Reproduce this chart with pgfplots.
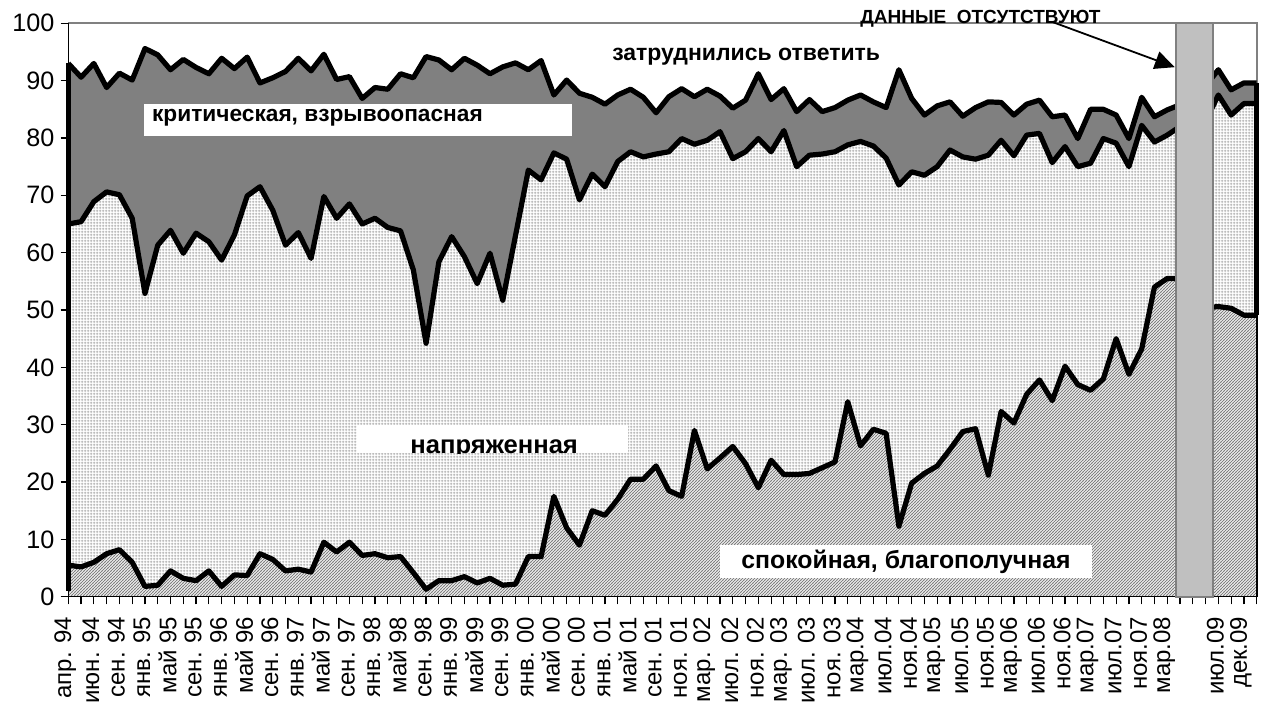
\documentclass[border=0pt]{standalone}
\usepackage{fontspec}
\setmainfont{Liberation Sans}
\usepackage{pgfplots}
\pgfplotsset{compat=1.18}
\usepackage{pgfplotstable}
\usetikzlibrary{patterns.meta,arrows.meta}

\pgfdeclarepattern{
  name=mygrid, type=uncolored,
  bottom left={\pgfpoint{0pt}{0pt}},
  top right={\pgfpoint{1.5pt}{1.5pt}},
  tile size={\pgfpoint{1.5pt}{1.5pt}},
  code={\pgfsetlinewidth{0.45pt}%
    \pgfpathmoveto{\pgfpoint{0pt}{0.75pt}}\pgfpathlineto{\pgfpoint{1.5pt}{0.75pt}}%
    \pgfpathmoveto{\pgfpoint{0.75pt}{0pt}}\pgfpathlineto{\pgfpoint{0.75pt}{1.5pt}}%
    \pgfusepath{stroke}}
}
\pgfdeclarepattern{
  name=myhatch, type=uncolored,
  bottom left={\pgfpoint{-0.2pt}{-0.2pt}},
  top right={\pgfpoint{1.7pt}{1.7pt}},
  tile size={\pgfpoint{1.5pt}{1.5pt}},
  code={\pgfsetlinewidth{0.5pt}%
    \pgfpathmoveto{\pgfpoint{-0.2pt}{-0.2pt}}\pgfpathlineto{\pgfpoint{1.7pt}{1.7pt}}%
    \pgfusepath{stroke}}
}

\definecolor{crit}{HTML}{808080}
\definecolor{barc}{HTML}{C0C0C0}

\pgfplotstableread{
i B M T
0 5.5 65.0 93.0
1 5.2 65.4 90.6
2 6.0 68.9 93.0
3 7.5 70.6 88.8
4 8.2 70.1 91.3
5 6.0 66.0 90.1
6 1.8 52.9 95.6
7 2.0 61.3 94.5
8 4.5 63.9 91.9
9 3.2 59.9 93.7
10 2.8 63.4 92.3
11 4.5 61.9 91.2
12 1.8 58.7 93.9
13 3.8 63.1 92.1
14 3.7 69.9 94.1
15 7.5 71.5 89.6
16 6.5 67.4 90.5
17 4.5 61.3 91.6
18 4.8 63.5 93.9
19 4.3 59.0 91.7
20 9.5 69.8 94.6
21 7.8 66.0 90.2
22 9.5 68.5 90.7
23 7.2 65.0 86.9
24 7.5 66.0 88.8
25 6.8 64.4 88.5
26 7.0 63.8 91.2
27 4.2 57.0 90.5
28 1.3 44.2 94.2
29 2.8 58.4 93.6
30 2.8 62.8 91.9
31 3.5 59.3 93.9
32 2.4 54.6 92.7
33 3.2 59.9 91.2
34 2.0 51.7 92.4
35 2.2 63.0 93.1
36 7.0 74.4 91.9
37 7.0 72.7 93.5
38 17.5 77.4 87.5
39 12.0 76.3 90.1
40 9.0 69.2 87.8
41 15.0 73.7 87.1
42 14.2 71.5 85.9
43 17.0 75.9 87.5
44 20.5 77.6 88.5
45 20.5 76.7 87.1
46 22.8 77.2 84.4
47 18.5 77.6 87.2
48 17.5 79.9 88.6
49 29.0 78.9 87.2
50 22.3 79.6 88.5
51 24.2 81.1 87.3
52 26.2 76.4 85.2
53 23.2 77.6 86.6
54 19.0 79.9 91.2
55 23.8 77.6 86.7
56 21.3 81.3 88.6
57 21.3 75.0 84.6
58 21.5 77.0 86.7
59 22.5 77.2 84.6
60 23.5 77.6 85.3
61 34.0 78.8 86.6
62 26.3 79.4 87.5
63 29.2 78.6 86.3
64 28.5 76.5 85.3
65 12.3 71.8 91.9
66 19.8 74.1 86.9
67 21.5 73.5 84.0
68 22.8 75.0 85.6
69 25.7 77.9 86.3
70 28.8 76.7 83.8
71 29.3 76.3 85.3
72 21.2 77.0 86.3
73 32.3 79.6 86.2
74 30.3 76.9 84.0
75 35.3 80.5 85.9
76 37.8 80.8 86.6
77 34.2 75.7 83.7
78 40.2 78.5 84.0
79 37.0 75.0 79.9
80 36.0 75.6 85.0
81 38.0 79.9 85.0
82 45.0 79.1 84.0
83 38.8 75.0 79.9
84 43.2 82.2 87.1
85 54.0 79.3 83.7
86 55.5 80.5 84.9
87 55.5 82.0 85.8
88 53.0 82.5 87.5
89 50.4 82.9 89.1
90 50.6 87.5 91.9
91 50.3 84.0 88.4
92 49.1 86.0 89.6
93 49.1 86.0 89.6
}\data

\begin{document}
\begin{tikzpicture}
\useasboundingbox (-34.15pt,-56.15pt) rectangle (600.35pt,298.35pt);
\begin{axis}[
  at={(0pt,0pt)}, anchor=south west,
  scale only axis, width=594.2pt, height=286.7pt,
  xmin=0, xmax=93, ymin=0, ymax=100,
  clip=false,
  axis line style={draw=none},
  tick align=outside,
  xtick pos=left, ytick pos=left,
  major tick length=3.8pt, minor tick length=3.8pt,
  every tick/.style={black, line width=0.6pt},
  ytick={0,10,...,100},
  xtick={0,2,...,92},
  minor x tick num=1,
  extra x ticks={93}, extra x tick labels={},
  xticklabels={апр. 94,июн. 94,сен. 94,янв. 95,май 95,сен. 95,янв. 96,май 96,сен. 96,янв. 97,май 97,сен. 97,янв. 98,май 98,сен. 98,янв. 99,май 99,сен. 99,янв. 00,май 00,сен. 00,янв. 01,май 01,сен. 01,ноя. 01,мар. 02,июл. 02,ноя. 02,мар. 03,июл. 03,ноя. 03,мар.04,июл.04,ноя.04,мар.05,июл.05,ноя.05,мар.06,июл.06,ноя.06,мар.07,июл.07,ноя.07,мар.08,{},июл.09,дек.09},
  xticklabel style={font=\fontsize{12}{12}\selectfont, inner sep=0pt, xshift=-1.5pt, yshift=-6pt, rotate=90, anchor=east},
  yticklabel style={font=\fontsize{12.6}{13}\selectfont, inner sep=0pt, xshift=-3pt},
  /pgf/number format/assume math mode=true,
]
% areas
\addplot[draw=none, fill=crit] table[x=i,y=T]{\data} \closedcycle;
\addplot[draw=none, fill=white, postaction={pattern=mygrid, pattern color=black!40}] table[x=i,y=M]{\data} \closedcycle;
\addplot[draw=none, fill=white, postaction={pattern=myhatch, pattern color=black!50}] table[x=i,y=B]{\data} \closedcycle;
% frame
\draw[crit, line width=1pt] (axis cs:0,100) -- (axis cs:93,100) -- (axis cs:93,0);
\draw[black, line width=0.7pt] (axis cs:0,100) -- (axis cs:0,0) -- (axis cs:93,0);
% boundary lines
\addplot[black, line width=2.6pt, line join=round] table[x=i,y=T]{\data};
\addplot[black, line width=2.6pt, line join=round] table[x=i,y=M]{\data};
\addplot[black, line width=2.6pt, line join=round] table[x=i,y=B]{\data};
\addplot[black, line width=2.6pt] coordinates {(0,1) (0,93.0)};
\addplot[black, line width=2.6pt] coordinates {(93,49.1) (93,89.6)};
\addplot[black, line width=1pt] coordinates {(93,0) (93,49.1)};
% missing-data bar
\filldraw[fill=barc, draw=crit, line width=0.8pt] (axis cs:86.67,0) rectangle (axis cs:89.57,100);
% annotations
\fill[white] (axis cs:5.93,85.89) rectangle (axis cs:39.41,80.31);
\node[anchor=base west, inner sep=0pt, font=\bfseries\fontsize{11.35}{12}\selectfont] at (axis cs:6.53,82.83) {критическая, взрывоопасная};
\node[anchor=base west, inner sep=0pt, font=\bfseries\fontsize{11.5}{12}\selectfont] at (axis cs:42.54,93.6) {затруднились ответить};
\fill[white] (axis cs:22.59,29.93) rectangle (axis cs:43.79,25.0);
\begin{scope}
\clip (axis cs:22.59,29.93) rectangle (axis cs:43.79,25.0);
\node[anchor=base west, inner sep=0pt, font=\bfseries\fontsize{12.8}{13}\selectfont] at (axis cs:26.74,24.9) {напряженная};
\end{scope}
\fill[white] (axis cs:51.0,9.0) rectangle (axis cs:80.1,3.24);
\node[anchor=base west, inner sep=0pt, font=\bfseries\fontsize{12.4}{13}\selectfont] at (axis cs:52.64,5.0) {спокойная, благополучная};
\node[anchor=base west, inner sep=0pt, font=\bfseries\fontsize{9.5}{10}\selectfont] at (axis cs:61.95,100.0) {ДАННЫЕ\ \ ОТСУТСТВУЮТ};
\draw[black, line width=0.9pt, -{Triangle[length=10pt,width=9pt]}] (axis cs:77.05,100.2) -- (axis cs:86.6,92.35);
\end{axis}
\end{tikzpicture}
\end{document}
